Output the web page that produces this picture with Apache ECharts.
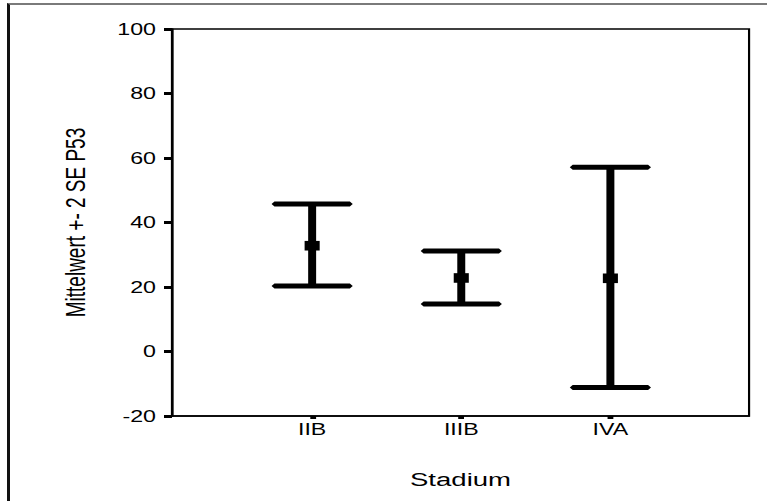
<!DOCTYPE html>
<html>
<head>
<meta charset="utf-8">
<script src="https://cdn.jsdelivr.net/npm/echarts@6/dist/echarts.min.js"></script>
<style>
  html, body { margin: 0; padding: 0; background: #fff; overflow: hidden; }
  #frame { position: absolute; left: 7px; top: 3px; width: 780px; height: 520px;
           border-left: 3px solid #111; border-top: 2px solid #7a7a7a; }
  #chart { position: absolute; left: 0; top: 0; width: 529px; height: 501px;
           transform: scaleX(1.45); transform-origin: 0 0; }
</style>
</head>
<body>
<div id="frame"></div>
<div id="chart"></div>
<script>
// ---- data ----
const categories = ['IIB', 'IIIB', 'IVA'];
const means      = [32.8, 22.8, 22.7];
const lowerBound = [20.3, 14.7, -11.2];
const upperBound = [45.7, 31.2, 57.1];
const yTicks     = [-20, 0, 20, 40, 60, 80, 100];

const xPositions = categories.map((c, i) => i + 1);
const barData = categories.map((c, i) => [xPositions[i], lowerBound[i], upperBound[i], means[i]]);

function renderItem(params, api) {
  const x = api.value(0), lo = api.value(1), hi = api.value(2), m = api.value(3);
  const pHi = api.coord([x, hi]);
  const pLo = api.coord([x, lo]);
  const pM = api.coord([x, m]);
  const half = 26, tip = 28, th = 2.5;
  function cap(p) {
    return {
      type: 'polygon',
      shape: { points: [
        [p[0] - tip, p[1]], [p[0] - half, p[1] - th], [p[0] + half, p[1] - th],
        [p[0] + tip, p[1]], [p[0] + half, p[1] + th], [p[0] - half, p[1] + th]
      ] },
      style: { fill: '#000' }
    };
  }
  return {
    type: 'group',
    children: [
      { type: 'line', shape: { x1: pHi[0], y1: pHi[1], x2: pLo[0], y2: pLo[1] },
        style: { stroke: '#000', lineWidth: 5.5 } },
      cap(pHi),
      cap(pLo),
      { type: 'rect', shape: { x: pM[0] - 5.2, y: pM[1] - 4.8, width: 10.4, height: 9.6 },
        style: { fill: '#000' } }
    ]
  };
}

const chart = echarts.init(document.getElementById('chart'), null, { renderer: 'svg' });
chart.setOption({
  animation: false,
  backgroundColor: 'transparent',
  grid: { left: 118.6, right: 12.4, top: 29, bottom: 85, show: true,
          borderColor: '#000', borderWidth: 1.5, backgroundColor: 'transparent' },
  xAxis: {
    type: 'value', min: 0.06, max: 3.93,
    name: 'Stadium', nameLocation: 'middle', nameGap: 54,
    nameTextStyle: { fontFamily: 'Liberation Sans', fontSize: 19, color: '#000' },
    axisLine: { onZero: false, lineStyle: { color: '#000', width: 1.5 } },
    axisTick: { show: true, customValues: xPositions, length: 3, lineStyle: { color: '#000', width: 4 } },
    axisLabel: { customValues: xPositions, margin: 5, fontFamily: 'Liberation Sans', fontSize: 16, color: '#000',
                 formatter: v => categories[Math.round(v) - 1] || '' },
    splitLine: { show: false }
  },
  yAxis: {
    type: 'value', min: yTicks[0], max: yTicks[yTicks.length - 1], interval: 20,
    name: 'Mittelwert +- 2 SE P53', nameLocation: 'middle', nameGap: 57,
    nameTextStyle: { fontFamily: 'Liberation Sans', fontSize: 19, color: '#000' },
    axisLine: { show: true, onZero: false, lineStyle: { color: '#000', width: 1.5 } },
    axisTick: { show: true, length: 5.5, lineStyle: { color: '#000', width: 3 } },
    axisLabel: { margin: 11, fontFamily: 'Liberation Sans', fontSize: 16, color: '#000' },
    splitLine: { show: false }
  },
  series: [{
    type: 'custom',
    renderItem: renderItem,
    data: barData,
    encode: { x: 0, y: [1, 2, 3] },
    clip: false
  }]
});
</script>
</body>
</html>
